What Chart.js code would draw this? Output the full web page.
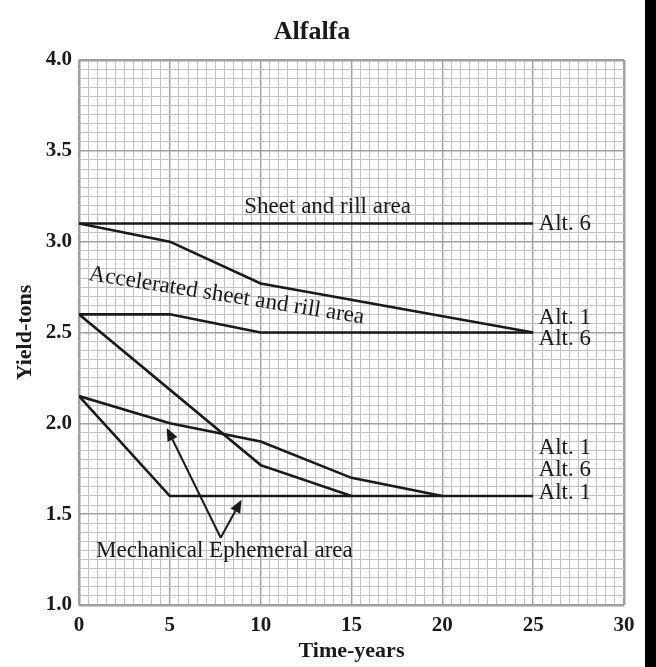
<!DOCTYPE html>
<html>
<head>
<meta charset="utf-8">
<title>Alfalfa</title>
<script src="https://cdn.jsdelivr.net/npm/chart.js@4.4.1/dist/chart.umd.min.js"></script>
<style>
  html, body { margin: 0; padding: 0; background: #fff; }
  #wrap { position: relative; width: 656px; height: 667px; }
  #edge { position: absolute; left: 645px; top: 0; width: 11px; height: 667px; background: #000; }
</style>
</head>
<body>
<div id="wrap">
  <canvas id="chart" width="656" height="667"></canvas>
  <div id="edge"></div>
</div>
<script>
// Yield (tons) against time (years), one [year, yield] list per line
const sheetAlt6 = [[0, 3.1], [25, 3.1]];
const sheetAlt1 = [[0, 3.1], [5, 3.0], [10, 2.77], [25, 2.5]];
const accelAlt6 = [[0, 2.6], [5, 2.6], [10, 2.5], [25, 2.5]];
const accelAlt1 = [[0, 2.6], [10, 1.77], [15, 1.6]];
const mechAlt6 = [[0, 2.15], [5, 2.0], [10, 1.9], [15, 1.7], [20, 1.6]];
const mechAlt1 = [[0, 2.15], [5, 1.6], [25, 1.6]];

// labelled ticks (the grid itself runs every 0.5 yr / 0.05 t)
const xTickLabels = [0, 5, 10, 15, 20, 25, 30];
const yTickLabels = ['1.0', '1.5', '2.0', '2.5', '3.0', '3.5', '4.0'];

// text notes, anchored in data units (left edge, baseline)
const notes = [
  { text: 'Sheet and rill area', x: 9.1, y: 3.157 },
  { text: 'Alt. 6', x: 25.3, y: 3.064 },
  { text: 'Alt. 1', x: 25.3, y: 2.547 },
  { text: 'Alt. 6', x: 25.3, y: 2.431 },
  { text: 'Alt. 1', x: 25.3, y: 1.829 },
  { text: 'Alt. 6', x: 25.3, y: 1.71 },
  { text: 'Alt. 1', x: 25.3, y: 1.583 },
  { text: 'Mechanical Ephemeral area', x: 0.94, y: 1.266 }
];
const slantNote = { text: 'Accelerated sheet and rill area', x: 0.5, y: 2.789, angle: 9 };

// two arrows out of one point, pointing at the mechanical lines
const arrowFrom = [7.8, 1.37];
const arrowTips = [[4.83, 1.975], [8.95, 1.58]];

const SERIF = '"Liberation Serif", "DejaVu Serif", serif';
const INK = '#1a1a1a';

const toPoints = arr => arr.map(p => ({ x: p[0], y: p[1] }));
const lineSet = arr => ({
  data: toPoints(arr),
  borderColor: INK,
  borderWidth: 2.6,
  pointRadius: 0,
  tension: 0,
  fill: false
});

const isOn = (v, step) => Math.abs(v / step - Math.round(v / step)) < 1e-6;

function gridWidth(v, step, lo, hi) {
  if (Math.abs(v - lo) < 1e-6 || Math.abs(v - hi) < 1e-6) return 2.5;
  return isOn(v, step) ? 1.4 : 1;
}
function gridColor(v, step) {
  return isOn(v, step) ? '#a0a0a0' : '#c2c2c2';
}

// notes and arrows go on top of the lines
const notesPlugin = {
  id: 'notes',
  afterDatasetsDraw(chart) {
    const { ctx, scales: { x, y } } = chart;
    ctx.save();
    ctx.fillStyle = INK;
    ctx.font = '23px ' + SERIF;
    ctx.textAlign = 'left';
    ctx.textBaseline = 'alphabetic';
    notes.forEach(n => {
      ctx.fillText(n.text, x.getPixelForValue(n.x), y.getPixelForValue(n.y));
    });

    ctx.save();
    ctx.translate(x.getPixelForValue(slantNote.x), y.getPixelForValue(slantNote.y));
    ctx.rotate(slantNote.angle * Math.PI / 180);
    ctx.fillText(slantNote.text, 0, 0);
    ctx.restore();

    // arrows
    const fx = x.getPixelForValue(arrowFrom[0]);
    const fy = y.getPixelForValue(arrowFrom[1]);
    ctx.strokeStyle = INK;
    ctx.lineWidth = 2;
    arrowTips.forEach(t => {
      const tx = x.getPixelForValue(t[0]);
      const ty = y.getPixelForValue(t[1]);
      const ang = Math.atan2(ty - fy, tx - fx);
      const head = 13, half = 5.5;
      const bx = tx - head * Math.cos(ang);
      const by = ty - head * Math.sin(ang);
      ctx.beginPath();
      ctx.moveTo(fx, fy);
      ctx.lineTo(bx, by);
      ctx.stroke();
      ctx.beginPath();
      ctx.moveTo(tx, ty);
      ctx.lineTo(bx + half * Math.sin(ang), by - half * Math.cos(ang));
      ctx.lineTo(bx - half * Math.sin(ang), by + half * Math.cos(ang));
      ctx.closePath();
      ctx.fill();
    });
    ctx.restore();
  }
};

const chart = new Chart(document.getElementById('chart'), {
  type: 'line',
  data: {
    datasets: [
      lineSet(sheetAlt6),
      lineSet(sheetAlt1),
      lineSet(accelAlt6),
      lineSet(accelAlt1),
      lineSet(mechAlt6),
      lineSet(mechAlt1)
    ]
  },
  options: {
    responsive: false,
    animation: false,
    layout: { padding: { left: 0, right: 32, top: 0, bottom: 0 } },
    plugins: {
      legend: { display: false },
      tooltip: { enabled: false },
      title: {
        display: true,
        text: 'Alfalfa',
        color: INK,
        font: { family: SERIF, size: 26, weight: 'bold' },
        padding: { top: 17, bottom: 11.8 }
      }
    },
    scales: {
      x: {
        type: 'linear',
        min: 0,
        max: 30,
        afterFit(scale) { scale.height = 62; },
        border: { display: false },
        grid: {
          drawTicks: false,
          color: c => gridColor(c.tick.value, 5),
          lineWidth: c => gridWidth(c.tick.value, 5, 0, 30)
        },
        ticks: {
          stepSize: 0.5,
          autoSkip: false,
          maxRotation: 0,
          padding: 8,
          color: INK,
          font: { family: SERIF, size: 21, weight: 'bold' },
          callback: v => xTickLabels.find(t => Math.abs(t - v) < 1e-6) !== undefined ? String(v) : ''
        },
        title: {
          display: true,
          text: 'Time-years',
          color: INK,
          font: { family: SERIF, size: 22, weight: 'bold' },
          padding: { top: 0, bottom: 2 }
        }
      },
      y: {
        type: 'linear',
        min: 1,
        max: 4,
        afterFit(scale) { scale.width = 79; },
        border: { display: false },
        grid: {
          drawTicks: false,
          color: c => gridColor(c.tick.value, 0.5),
          lineWidth: c => gridWidth(c.tick.value, 0.5, 1, 4)
        },
        ticks: {
          stepSize: 0.05,
          autoSkip: false,
          padding: 7,
          color: INK,
          font: { family: SERIF, size: 21, weight: 'bold' },
          callback: v => {
            const s = v.toFixed(1);
            return isOn(v, 0.5) && yTickLabels.includes(s) ? s : '';
          }
        },
        title: {
          display: true,
          text: 'Yield-tons',
          color: INK,
          font: { family: SERIF, size: 22, weight: 'bold' },
          padding: { top: 12, bottom: 0 }
        }
      }
    }
  },
  plugins: [notesPlugin]
});
</script>
</body>
</html>
